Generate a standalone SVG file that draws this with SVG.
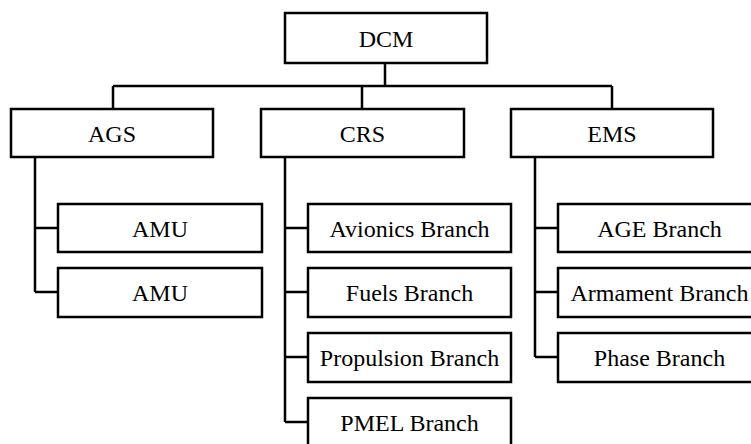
<svg xmlns="http://www.w3.org/2000/svg" width="751" height="444" viewBox="0 0 751 444">
<style>
.box{fill:#fff;stroke:#000;stroke-width:2.5}
.lbl{font-family:"Liberation Serif","Times New Roman",serif;font-size:24px;fill:#000;text-anchor:middle}
.conn{fill:none;stroke:#000;stroke-width:2.5}
</style>
<rect width="751" height="444" fill="#fff"/>
<g id="connectors">
<path class="conn" d="M385 63V86M113 86H612M113 86V109M362 86V109M612 86V109"/>
<path class="conn" d="M35 157V292M35 228H58M35 292H58"/>
<path class="conn" d="M285 157V422M285 228H308M285 292H308M285 357H308M285 422H308"/>
<path class="conn" d="M535 157V357M535 228H558M535 292H558M535 357H558"/>
</g>
<g id="dcm"><rect class="box" x="285" y="13" width="202" height="50"/><text class="lbl" x="386" y="46.5">DCM</text></g>
<g id="ags"><rect class="box" x="11" y="109" width="202" height="48"/><text class="lbl" x="112" y="141.5">AGS</text></g>
<g id="crs"><rect class="box" x="261" y="109" width="203" height="48"/><text class="lbl" x="362.5" y="141.5">CRS</text></g>
<g id="ems"><rect class="box" x="511" y="109" width="202" height="48"/><text class="lbl" x="612" y="141.5">EMS</text></g>
<g id="amu1"><rect class="box" x="58" y="204" width="204" height="48"/><text class="lbl" x="160" y="236.5">AMU</text></g>
<g id="amu2"><rect class="box" x="58" y="268" width="204" height="49"/><text class="lbl" x="160" y="300.5">AMU</text></g>
<g id="avionics"><rect class="box" x="308" y="204" width="203" height="48"/><text class="lbl" x="409.5" y="236.5">Avionics Branch</text></g>
<g id="fuels"><rect class="box" x="308" y="268" width="203" height="49"/><text class="lbl" x="409.5" y="300.5">Fuels Branch</text></g>
<g id="propulsion"><rect class="box" x="308" y="333" width="203" height="49"/><text class="lbl" x="409.5" y="365.5">Propulsion Branch</text></g>
<g id="pmel"><rect class="box" x="308" y="398" width="203" height="60"/><text class="lbl" x="409.5" y="430.5">PMEL Branch</text></g>
<g id="age"><rect class="box" x="558" y="204" width="203" height="48"/><text class="lbl" x="659.5" y="236.5">AGE Branch</text></g>
<g id="armament"><rect class="box" x="558" y="268" width="203" height="49"/><text class="lbl" x="659.5" y="300.5">Armament Branch</text></g>
<g id="phase"><rect class="box" x="558" y="333" width="203" height="49"/><text class="lbl" x="659.5" y="365.5">Phase Branch</text></g>
</svg>
